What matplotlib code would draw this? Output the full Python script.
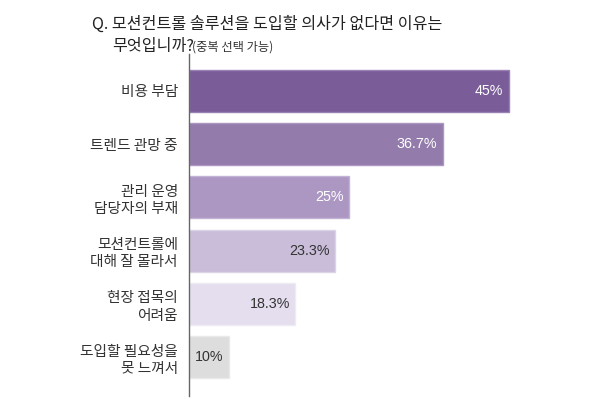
import matplotlib
matplotlib.use("Agg")
import matplotlib.pyplot as plt

plt.rcParams['font.family'] = ['Noto Sans CJK KR', 'DejaVu Sans']

categories = ["비용 부담", "트렌드 관망 중", "관리 운영\n담당자의 부재",
              "모션컨트롤에\n대해 잘 몰라서", "현장 접목의\n어려움", "도입할 필요성을\n못 느껴서"]
values = [45, 36.7, 25, 23.3, 18.3, 10]
value_labels = ["45%", "36.7%", "25%", "23.3%", "18.3%", "10%"]
colors = ["#7a5c99", "#937bac", "#ac97c3", "#c9bdd9", "#e4deee", "#dcdddc"]
edges = ["#9a82b4", "#ab97c2", "#c2b3d4", "#dcd3e6", "#efebf4", "#e8e9e8"]
text_colors = ["white", "white", "white", "#333333", "#333333", "#333333"]

W, H = 600, 400
fig = plt.figure(figsize=(6, 4), dpi=100)
ax = fig.add_axes([189 / W, 4 / H, 400 / W, 342 / H])

base = 5
ypos = list(range(len(values)))
ax.barh(ypos, [v - base for v in values], left=base, height=0.79,
        color=colors, edgecolor=edges, linewidth=1)
ax.set_xlim(5, 55)
ax.set_ylim(5.733, -0.695)

for y, v, lab, tc in zip(ypos, values, value_labels, text_colors):
    ax.text(v - 0.7, y, lab, ha='right', va='center', color=tc,
            fontsize=10.3, family=['Liberation Sans', 'DejaVu Sans'])

ax.set_yticks(ypos)
ax.set_yticklabels(categories, fontsize=10.6, color="#333333", linespacing=1.3)
ax.tick_params(axis='y', length=0, pad=8)
ax.set_xticks([])
for s in ['top', 'right', 'bottom']:
    ax.spines[s].set_visible(False)
ax.spines['left'].set_color("#666666")
ax.spines['left'].set_linewidth(1)

fig.text(92 / W, 1 - 24 / H, "Q. 모션컨트롤 솔루션을 도입할 의사가 없다면 이유는",
         fontsize=11.6, color="#222222", va='center', ha='left')
fig.text(112 / W, 1 - 46 / H, "무엇입니까?",
         fontsize=11.6, color="#222222", va='center', ha='left')
fig.text(192 / W, 1 - 47 / H, "(중복 선택 가능)",
         fontsize=8.8, color="#333333", va='center', ha='left')

fig.savefig("out.png", dpi=100)
